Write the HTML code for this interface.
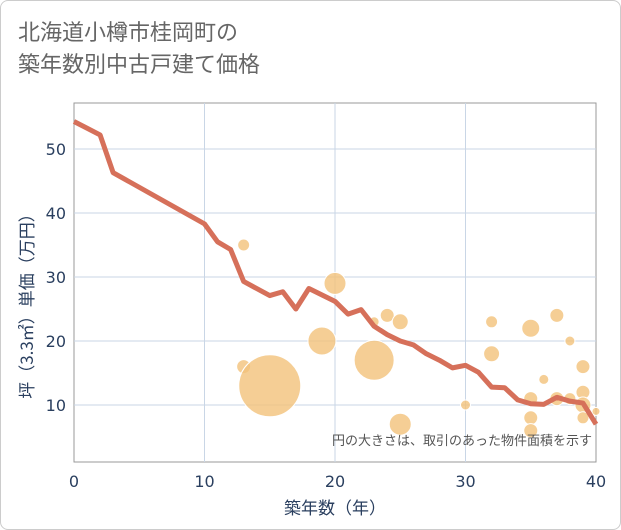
<!DOCTYPE html>
<html><head><meta charset="utf-8"><style>
body{margin:0;background:#fff;}
#wrap{position:relative;width:619px;height:528px;border:1px solid #ccc;border-radius:8px;font-family:"Liberation Sans","Noto Sans CJK JP",sans-serif;overflow:hidden}
#title{position:absolute;left:17px;top:14px;font-size:22px;line-height:32px;color:#666;font-family:"Noto Sans CJK JP",sans-serif}
</style></head><body>
<div id="wrap">
<div id="title">北海道小樽市桂岡町の<br>築年数別中古戸建て価格</div>
<svg id="chart" width="621" height="530" style="position:absolute;left:-1px;top:-1px"></svg>
</div>
<script>
const lineYears=[0,2,3,10,11,12,13,15,16,17,18,20,21,22,23,24,25,26,27,28,29,30,31,32,33,34,35,36,37,38,39,40];
const lineValues=[54.3,52.2,46.3,38.3,35.5,34.3,29.3,27.1,27.7,25,28.2,26.2,24.2,24.9,22.3,21,20,19.4,18,17,15.8,16.2,15.1,12.8,12.7,10.8,10.2,10.1,11.2,10.6,10.3,7];
const bubbleYears=[13,13,15,19,20,23,23,24,25,25,30,32,32,35,35,35,35,36,37,37,38,39,39,38,39,39,40];
const bubbleValues=[35,16,13,20,29,17,23,24,23,7,10,23,18,22,11,8,6,14,24,11,20,16,12,11,10,8,9];
const bubbleSizes=[6,7,31,14,11,20,5,7,8,11,5,6,8,9,7,7,7,5,7,7,5,7,7,6,8,6,4];
const xTicks=[0,10,20,30,40];
const yTicks=[10,20,30,40,50];
const NS='http://www.w3.org/2000/svg';
const svg=document.getElementById('chart');
const L=74,R=596,T=103,B=462;
const sx=v=>L+(v/40)*(R-L);
const sy=v=>469-v*6.4;
function mk(t,a){const e=document.createElementNS(NS,t);for(const k in a)e.setAttribute(k,a[k]);svg.appendChild(e);return e;}
let e=mk('rect',{x:L,y:T,width:R-L,height:B-T,fill:'#fff',stroke:'#999'});


xTicks.forEach(t=>{
 if(t>0&&t<40){const g=mk('line',{x1:sx(t),x2:sx(t),y1:T,y2:B,stroke:'#c9d6e6'});
 
 }
 const tx=mk('text',{x:sx(t),y:487,'text-anchor':'middle','font-size':16,fill:'#2a3f5f','font-family':'DejaVu Sans,sans-serif'});tx.textContent=t;
 
 
});
yTicks.forEach(t=>{
 const g=mk('line',{x1:L,x2:R,y1:sy(t),y2:sy(t),stroke:'#c9d6e6'});
 
 
 const tx=mk('text',{x:66,y:sy(t)+6,'text-anchor':'end','font-size':16,fill:'#2a3f5f','font-family':'DejaVu Sans,sans-serif'});tx.textContent=t;
 
 
});
bubbleYears.forEach((yr,i)=>{
 const c=mk('circle',{cx:sx(yr),cy:sy(bubbleValues[i]),r:bubbleSizes[i],fill:'#f2c27a','fill-opacity':0.8,stroke:'#fff','stroke-width':1});
 
 
});
const p=mk('polyline',{points:lineYears.map((y,i)=>sx(y)+','+sy(lineValues[i])).join(' '),fill:'none',stroke:'#d6705a','stroke-width':5,'stroke-linejoin':'round'});


const n=mk('text',{x:592,y:445,'text-anchor':'end','font-size':13,fill:'#555','font-family':'Noto Sans CJK JP,sans-serif'});n.textContent='円の大きさは、取引のあった物件面積を示す';


const xt=mk('text',{x:sx(20),y:514,'text-anchor':'middle','font-size':17,fill:'#2a3f5f','font-family':'Noto Sans CJK JP,sans-serif'});xt.textContent='築年数（年）';


const yt=mk('text',{x:0,y:0,'text-anchor':'middle','font-size':17,fill:'#2a3f5f',transform:'translate(33,302) rotate(-90)','font-family':'Noto Sans CJK JP,sans-serif'});yt.textContent='坪（3.3㎡）単価（万円）';


</script>
</body></html>
